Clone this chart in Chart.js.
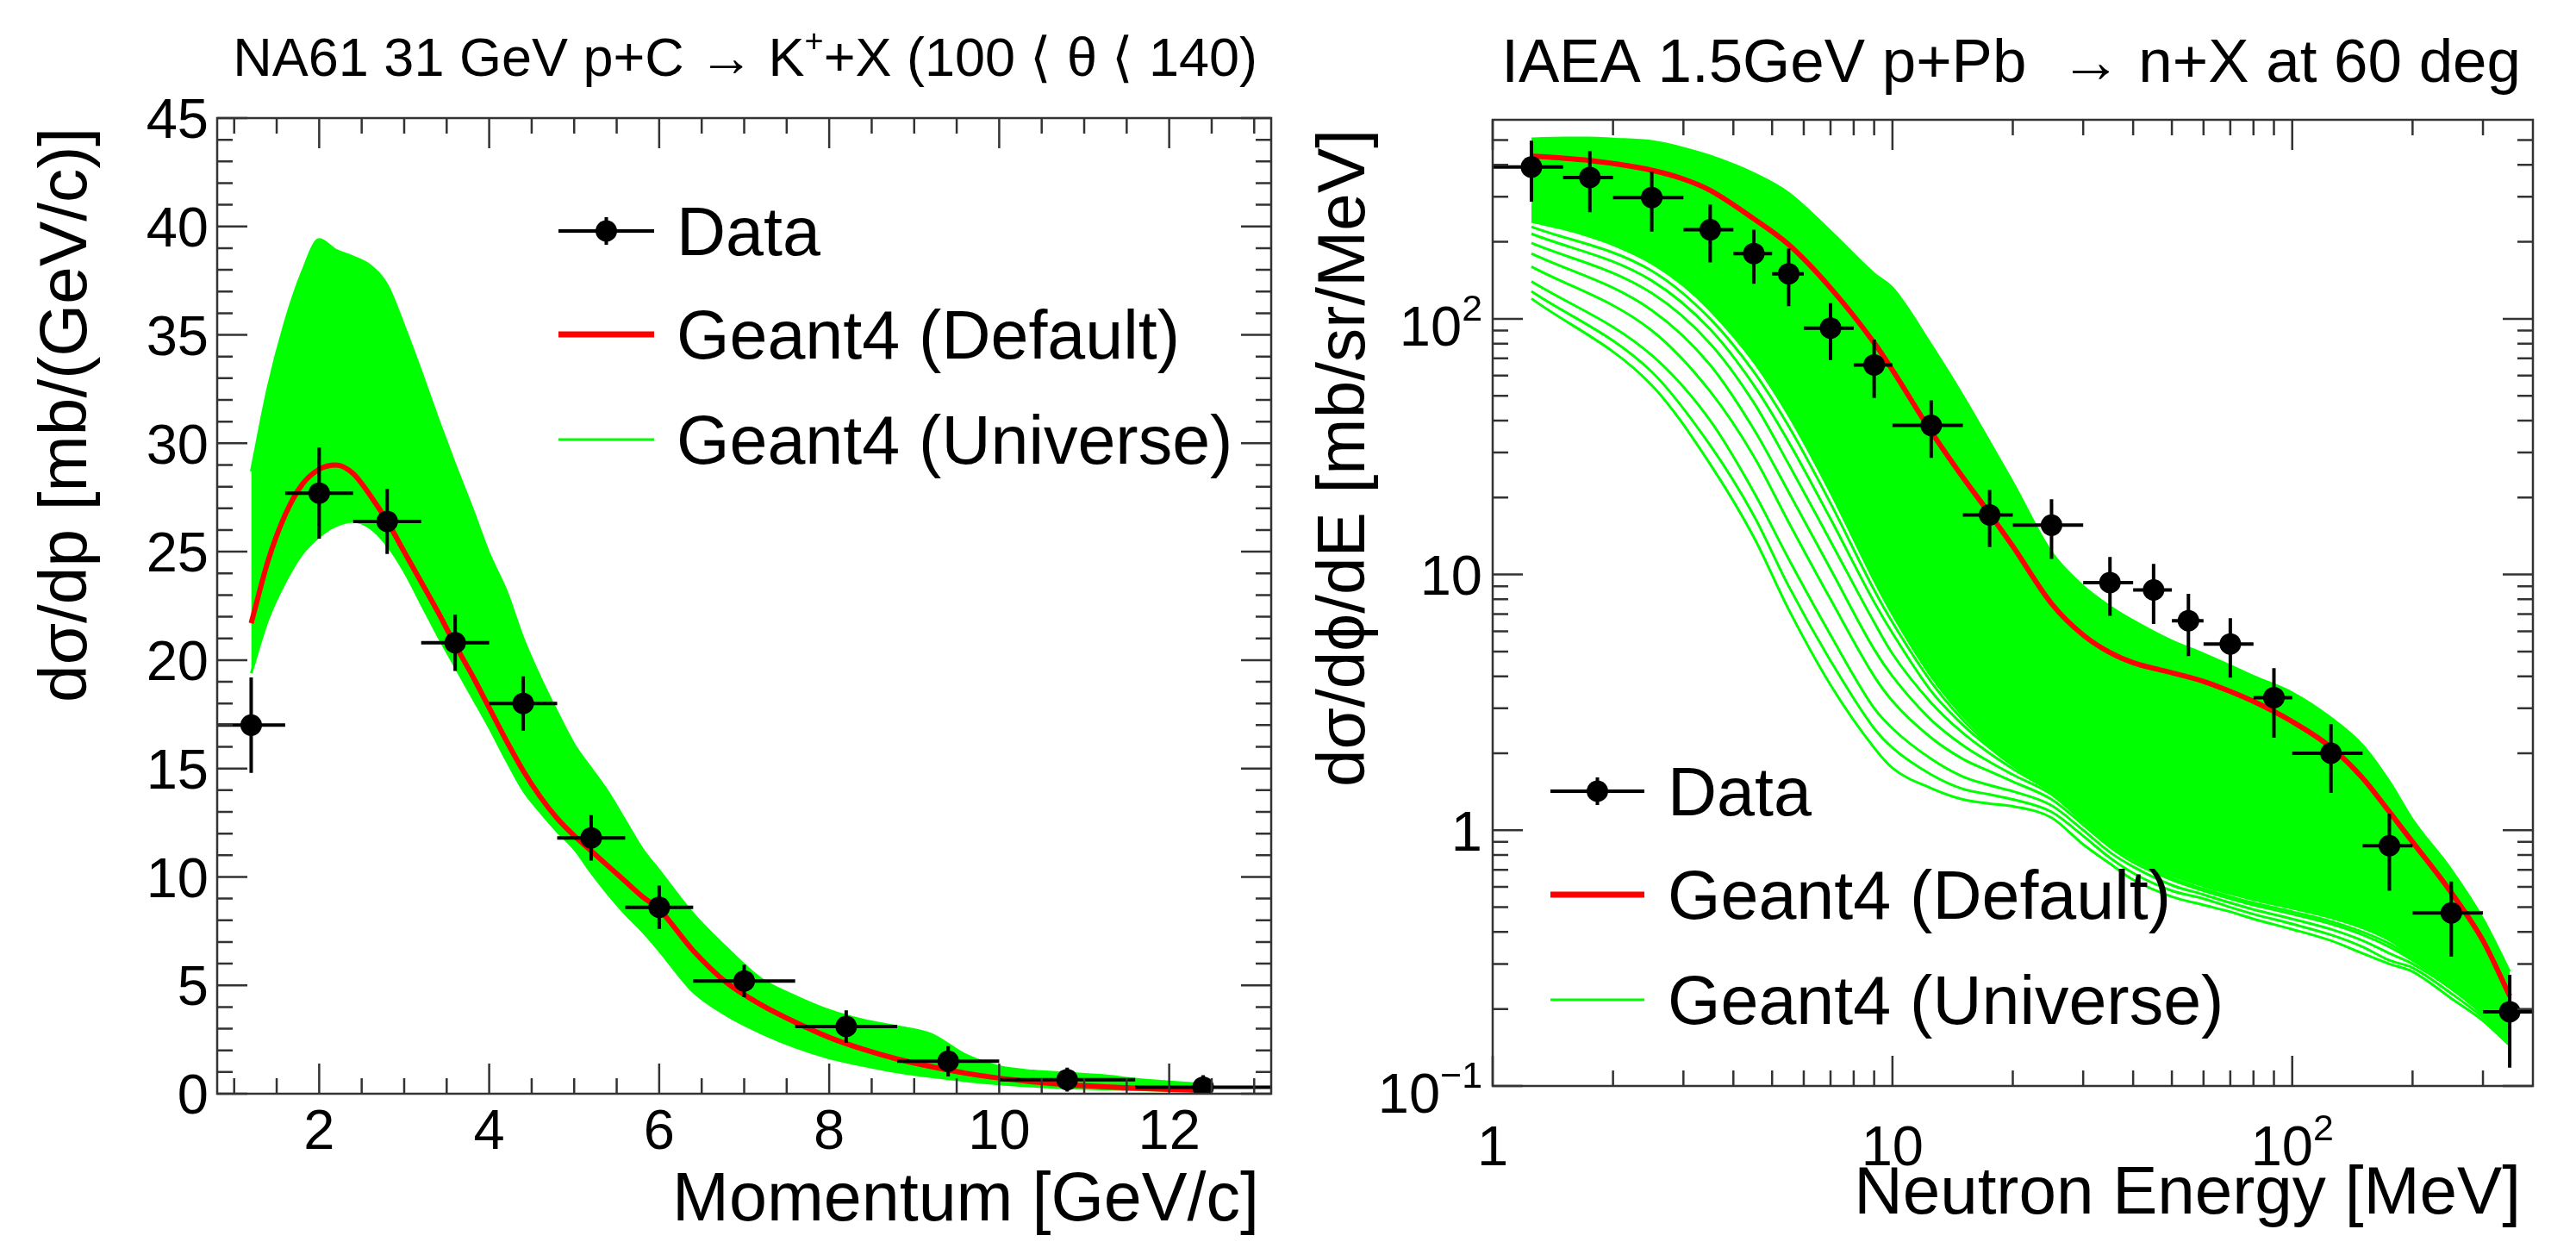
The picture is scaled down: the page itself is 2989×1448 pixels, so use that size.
<!DOCTYPE html>
<html>
<head>
<meta charset="utf-8">
<script src="https://cdn.jsdelivr.net/npm/chart.js@4.4.0/dist/chart.umd.min.js"></script>
<style>
  html, body { margin: 0; padding: 0; background: #fff; }
  #wrap { position: relative; width: 2989px; height: 1448px; }
  canvas { position: absolute; top: 0; }
</style>
</head>
<body>
<div id="wrap">
  <canvas id="na61" width="1495" height="1448" style="left:0;width:1495px;height:1448px"></canvas>
  <canvas id="iaea" width="1494" height="1448" style="left:1495px;width:1494px;height:1448px"></canvas>
</div>
<script>
// two ROOT-style panels drawn with chart.js

const FONT = '"Liberation Sans", Arial, Helvetica, sans-serif'
const LEGEND_LABELS = ['Data', 'Geant4 (Default)', 'Geant4 (Universe)']

// --- NA61 31 GeV p+C -> K+ X ---
const NA61_P = [1.2, 2.0, 2.8, 3.6, 4.4, 5.2, 6.0, 7.0, 8.2, 9.4, 10.8, 12.4]
const NA61_P_LO = [0.8, 1.6, 2.4, 3.2, 4.0, 4.8, 5.6, 6.4, 7.6, 8.8, 10.0, 11.6]
const NA61_P_HI = [1.6, 2.4, 3.2, 4.0, 4.8, 5.6, 6.4, 7.6, 8.8, 10.0, 11.6, 13.2]
const NA61_XS = [17.0, 27.7, 26.4, 20.8, 18.0, 11.8, 8.6, 5.2, 3.1, 1.5, 0.65, 0.3]
const NA61_ERR = [2.2, 2.1, 1.5, 1.3, 1.25, 1.05, 1.0, 0.75, 0.75, 0.7, 0.55, 0.55]

const NA61_GRID = [1.2, 1.4, 1.6, 1.8, 2.0, 2.2, 2.4, 2.6, 2.8, 3.0, 3.2, 3.4, 3.6, 3.8, 4.0, 4.2, 4.4, 4.6, 4.8, 5.0,
  5.2, 5.4, 5.6, 5.8, 6.0, 6.4, 6.8, 7.2, 7.6, 8.0, 8.4, 8.8, 9.2, 9.6, 10.0, 10.4, 10.8, 11.2, 11.6, 12.0, 12.4]
const NA61_DEFAULT = [21.7, 24.6, 26.7, 28.1, 28.8, 29.0, 28.6, 27.6, 26.4, 25.0, 23.6, 22.2, 20.7, 19.3, 17.8, 16.3, 14.9, 13.7, 12.7, 11.9,
  11.2, 10.5, 9.8, 9.1, 8.5, 6.6, 5.1, 4.1, 3.3, 2.6, 2.05, 1.6, 1.25, 0.95, 0.72, 0.55, 0.42, 0.33, 0.26, 0.2, 0.16]
const NA61_UNIV_HI = [28.7, 32.6, 35.6, 37.9, 39.4, 38.9, 38.6, 38.2, 37.3, 35.4, 33.3, 31.1, 29.0, 27.0, 24.9, 23.2, 21.0, 19.2, 17.6, 16.1,
  15.0, 13.9, 12.6, 11.3, 10.3, 8.3, 6.7, 5.3, 4.5, 3.85, 3.4, 3.1, 2.75, 1.8, 1.25, 1.05, 0.95, 0.85, 0.68, 0.55, 0.44]
const NA61_UNIV_LO = [19.4, 21.9, 23.6, 24.9, 25.7, 26.2, 26.4, 26.1, 25.3, 24.1, 22.6, 21.1, 19.7, 18.3, 16.9, 15.4, 14.0, 13.0, 12.1, 11.3,
  10.2, 9.2, 8.3, 7.5, 6.6, 4.7, 3.6, 2.8, 2.15, 1.65, 1.3, 1.0, 0.78, 0.6, 0.45, 0.35, 0.27, 0.22, 0.18, 0.15, 0.12]

const NA61_XTICKS = [2, 4, 6, 8, 10, 12]
const NA61_XLABELS = ['2', '4', '6', '8', '10', '12']
const NA61_YTICKS = [0, 5, 10, 15, 20, 25, 30, 35, 40, 45]
const NA61_YLABELS = ['0', '5', '10', '15', '20', '25', '30', '35', '40', '45']

// --- IAEA 1.5 GeV p+Pb -> n X at 60 deg ---
const IAEA_E = [1.25, 1.75, 2.5, 3.5, 4.5, 5.5, 7, 9, 12.5, 17.5, 25, 35, 45, 55, 70, 90, 125, 175, 250, 350]
const IAEA_E_LO = [1, 1.5, 2, 3, 4, 5, 6, 8, 10, 15, 20, 30, 40, 50, 60, 80, 100, 150, 200, 300]
const IAEA_E_HI = [1.5, 2, 3, 4, 5, 6, 8, 10, 15, 20, 30, 40, 50, 60, 80, 100, 150, 200, 300, 400]
const IAEA_XS = [392, 357, 298, 223, 180, 150, 92, 66, 38.3, 17.1, 15.6, 9.3, 8.7, 6.6, 5.35, 3.3, 2.0, 0.87, 0.475, 0.195]
const IAEA_ERR = [105, 96, 79, 57, 43, 38, 23, 17, 9.7, 4.3, 4.1, 2.4, 2.3, 1.8, 1.4, 1.0, 0.6, 0.29, 0.155, 0.077]

const IAEA_GRID = [1.25, 1.5, 1.75, 2, 2.5, 3, 3.5, 4.5, 5.5, 7, 9, 10, 12.5, 15, 17.5, 20, 25, 30, 35, 40,
  50, 60, 70, 80, 100, 125, 150, 175, 200, 250, 300, 350]
const IAEA_DEFAULT = [433, 425, 416, 405, 381, 352, 318, 246, 195, 132, 80.5, 63, 36.2, 24, 17.3, 12.9, 7.7, 5.8, 4.95, 4.52,
  4.13, 3.82, 3.49, 3.19, 2.66, 2.11, 1.6, 1.18, 0.9, 0.57, 0.37, 0.225]
const IAEA_UNIV_HI = [506, 510, 510, 505, 494, 465, 433, 370, 310, 220, 150, 132, 79, 50, 33, 22.9, 12.2, 9.0, 7.5, 6.6,
  5.5, 4.9, 4.4, 4.0, 3.45, 2.75, 2.15, 1.55, 1.1, 0.7, 0.45, 0.28]
const IAEA_UNIV_LO = [240, 225, 210, 195, 165, 135, 108, 68, 42, 21, 9.5, 7, 4.0, 2.8, 2.2, 1.85, 1.45, 1.15, 0.92, 0.8,
  0.68, 0.62, 0.58, 0.55, 0.51, 0.47, 0.43, 0.38, 0.33, 0.26, 0.2, 0.155]

// the loose universes below the dense band
const IAEA_SPARSE_E = [1.25, 2.5, 3.5, 4.5, 5.5, 7, 9, 10, 12.5, 15, 17.5, 20, 25, 30, 35, 40, 50, 60, 70, 80,
  100, 125, 150, 175, 200, 250, 300, 350]
const IAEA_SPARSE_1 = [120, 55, 27, 14, 7.3, 3.7, 2.1, 1.75, 1.46, 1.32, 1.27, 1.24, 1.12, 0.88, 0.74, 0.64, 0.55, 0.51, 0.48, 0.45,
  0.41, 0.37, 0.33, 0.30, 0.28, 0.22, 0.18, 0.144]
const IAEA_SPARSE_2 = [128, 62, 32, 17, 9, 4.6, 2.5, 2.1, 1.65, 1.45, 1.38, 1.32, 1.18, 0.95, 0.78, 0.68, 0.58, 0.54, 0.5, 0.47,
  0.43, 0.39, 0.35, 0.31, 0.29, 0.23, 0.185, 0.146]
const IAEA_SPARSE_3 = [140, 72, 40, 21, 11.5, 5.8, 3.0, 2.5, 1.9, 1.62, 1.5, 1.42, 1.25, 1.0, 0.82, 0.72, 0.61, 0.56, 0.52, 0.49,
  0.45, 0.41, 0.37, 0.33, 0.3, 0.24, 0.19, 0.148]
const IAEA_SPARSE_4 = [160, 90, 52, 29, 16, 8, 4.0, 3.2, 2.3, 1.9, 1.7, 1.55, 1.32, 1.05, 0.86, 0.75, 0.64, 0.58, 0.54, 0.51,
  0.47, 0.43, 0.39, 0.35, 0.31, 0.245, 0.193, 0.15]
const IAEA_SPARSE_5 = [180, 108, 66, 37, 21, 10.5, 5.1, 4.0, 2.7, 2.15, 1.85, 1.65, 1.38, 1.08, 0.88, 0.77, 0.65, 0.59, 0.55, 0.52,
  0.48, 0.44, 0.4, 0.36, 0.315, 0.248, 0.195, 0.151]
const IAEA_SPARSE_6 = [198, 126, 80, 47, 27, 13.5, 6.5, 4.9, 3.15, 2.4, 2.0, 1.74, 1.41, 1.11, 0.9, 0.785, 0.665, 0.605, 0.565, 0.535,
  0.495, 0.455, 0.415, 0.372, 0.322, 0.252, 0.197, 0.153]
const IAEA_SPARSE_7 = [215, 141, 91, 55, 33, 16.5, 7.8, 5.9, 3.5, 2.58, 2.1, 1.79, 1.43, 1.13, 0.91, 0.79, 0.67, 0.61, 0.57, 0.54,
  0.5, 0.46, 0.42, 0.376, 0.326, 0.256, 0.199, 0.154]
const IAEA_SPARSE_8 = [229, 154, 100, 62, 38, 19, 8.7, 6.5, 3.8, 2.7, 2.15, 1.82, 1.44, 1.14, 0.915, 0.795, 0.675, 0.615, 0.575, 0.545,
  0.505, 0.465, 0.425, 0.378, 0.328, 0.258, 0.2, 0.155]

const IAEA_XTICKS = [1, 10, 100]
const IAEA_XLABELS = ['1', '10', '10^2']
const IAEA_YTICKS = [0.1, 1, 10, 100]
const IAEA_YLABELS = ['10^\u22121', '1', '10', '10^2']

// minor ticks (style only)
const linMinor = (lo, hi, step, majors) => {
  const out = []
  for (let k = Math.ceil(lo / step - 1e-9); k * step <= hi + 1e-9; k++) {
    const v = +(k * step).toFixed(6)
    if (!majors.includes(v)) out.push(v)
  }
  return out
}
const logMinor = (lo, hi) => {
  const out = []
  for (let d = Math.floor(Math.log10(lo)); d <= Math.ceil(Math.log10(hi)); d++) {
    for (let m = 2; m <= 9; m++) {
      const v = m * Math.pow(10, d)
      if (v > lo * 1.0001 && v < hi * 0.9999) out.push(v)
    }
  }
  return out
}

const PANELS = {
  na61: {
    title: [{ t: 'NA61 31 GeV p+C \u2192 K' }, { t: '+', sup: true }, { t: '+X (100 \u27E8 \u03B8 \u27E8 140)' }],
    titleRight: 1459, titleBase: 88, titleWidth: 1188,
    xTitle: 'Momentum [GeV/c]', xTitleRight: 1461, xTitleBase: 1416, xTitleWidth: 681,
    yTitle: 'd\u03C3/dp [mb/(GeV/c)]', yTitleBase: 100, yTitleEnd: 148, yTitleWidth: 667,
    xTicks: NA61_XTICKS, xLabels: NA61_XLABELS, xMinor: linMinor(0.8, 13.2, 0.5, NA61_XTICKS),
    yTicks: NA61_YTICKS, yLabels: NA61_YLABELS, yMinor: linMinor(0, 45, 1, NA61_YTICKS),
    xLabelBase: 1333, yLabelRight: 242,
    legend: { x1: 648, x2: 759, tx: 785, rows: [268, 388, 510] },
    err: { x: NA61_P, lo: NA61_P_LO, hi: NA61_P_HI, y: NA61_XS, e: NA61_ERR },
  },
  iaea: {
    title: [{ t: 'IAEA 1.5GeV p+Pb  \u2192 n+X at 60 deg' }],
    titleRight: 1430, titleBase: 95, titleWidth: 1183,
    xTitle: 'Neutron Energy [MeV]', xTitleRight: 1430, xTitleBase: 1408, xTitleWidth: 774,
    yTitle: 'd\u03C3/d\u03D5/dE [mb/sr/MeV]', yTitleBase: 88, yTitleEnd: 150, yTitleWidth: null,
    xTicks: IAEA_XTICKS, xLabels: IAEA_XLABELS, xMinor: logMinor(1, 400),
    yTicks: IAEA_YTICKS, yLabels: IAEA_YLABELS, yMinor: logMinor(0.1, 600),
    xLabelBase: 1352, yLabelRight: 225,
    legend: { x1: 304, x2: 413, tx: 440, rows: [918, 1038, 1160] },
    err: { x: IAEA_E, lo: IAEA_E_LO, hi: IAEA_E_HI, y: IAEA_XS, e: IAEA_ERR },
  },
}

const LABEL_SIZE = 65
let yTitleSize = 79

const fitSize = (ctx, text, width, guess) => {
  ctx.font = `${guess}px ${FONT}`
  return guess * width / ctx.measureText(text).width
}

// label like '10^2' -> base + superscript
const drawLabel = (ctx, label, x, base, size, align) => {
  const [b, s] = label.split('^')
  ctx.font = `${size}px ${FONT}`
  const wb = ctx.measureText(b).width
  const ss = size * 0.66
  ctx.font = `${ss}px ${FONT}`
  const ws = s ? ctx.measureText(s).width : 0
  const w = wb + ws
  const x0 = align === 'right' ? x - w : align === 'center' ? x - w / 2 : x
  ctx.textAlign = 'left'
  ctx.textBaseline = 'alphabetic'
  ctx.font = `${size}px ${FONT}`
  ctx.fillText(b, x0, base)
  if (s) {
    ctx.font = `${ss}px ${FONT}`
    ctx.fillText(s, x0 + wb, base - size * 0.45)
  }
}

const richWidth = (ctx, parts, size) => parts.reduce((acc, p) => {
  ctx.font = `${p.sup ? size * 0.6 : size}px ${FONT}`
  return acc + ctx.measureText(p.t).width
}, 0)

const drawRich = (ctx, parts, right, base, size) => {
  let x = right - richWidth(ctx, parts, size)
  ctx.textAlign = 'left'
  ctx.textBaseline = 'alphabetic'
  parts.forEach(p => {
    ctx.font = `${p.sup ? size * 0.6 : size}px ${FONT}`
    ctx.fillText(p.t, x, p.sup ? base - size * 0.45 : base)
    x += ctx.measureText(p.t).width
  })
}

const rootStyle = {
  id: 'rootStyle',
  afterDatasetsDraw(chart) {
    const p = PANELS[chart.canvas.id]
    const { ctx, chartArea: a, scales: { x, y } } = chart
    ctx.save()
    ctx.beginPath()
    ctx.rect(a.left, a.top, a.right - a.left, a.bottom - a.top)
    ctx.clip()
    ctx.strokeStyle = '#000'
    ctx.lineWidth = 4
    p.err.x.forEach((xv, i) => {
      const px = x.getPixelForValue(xv)
      const py = y.getPixelForValue(p.err.y[i])
      ctx.beginPath()
      ctx.moveTo(x.getPixelForValue(p.err.lo[i]), py)
      ctx.lineTo(x.getPixelForValue(p.err.hi[i]), py)
      ctx.moveTo(px, y.getPixelForValue(p.err.y[i] - p.err.e[i]))
      ctx.lineTo(px, y.getPixelForValue(p.err.y[i] + p.err.e[i]))
      ctx.stroke()
    })
    ctx.restore()
  },
  afterDraw(chart) {
    const p = PANELS[chart.canvas.id]
    const { ctx, chartArea: a, scales: { x, y } } = chart
    ctx.save()

    // frame + inward ticks on all four sides
    ctx.strokeStyle = '#333'
    ctx.lineWidth = 2.5
    ctx.beginPath()
    const xt = (v, len) => {
      const px = x.getPixelForValue(v)
      ctx.moveTo(px, a.bottom); ctx.lineTo(px, a.bottom - len)
      ctx.moveTo(px, a.top); ctx.lineTo(px, a.top + len)
    }
    const yt = (v, len) => {
      const py = y.getPixelForValue(v)
      ctx.moveTo(a.left, py); ctx.lineTo(a.left + len, py)
      ctx.moveTo(a.right, py); ctx.lineTo(a.right - len, py)
    }
    p.xTicks.forEach(v => xt(v, 35))
    p.xMinor.forEach(v => xt(v, 18))
    p.yTicks.forEach(v => yt(v, 35))
    p.yMinor.forEach(v => yt(v, 18))
    ctx.stroke()
    ctx.strokeRect(a.left, a.top, a.right - a.left, a.bottom - a.top)

    // tick labels
    ctx.fillStyle = '#000'
    p.xTicks.forEach((v, i) => drawLabel(ctx, p.xLabels[i], x.getPixelForValue(v), p.xLabelBase, LABEL_SIZE, 'center'))
    p.yTicks.forEach((v, i) => {
      const lab = p.yLabels[i]
      const shift = lab.includes('^') ? 8 : 0
      drawLabel(ctx, lab, p.yLabelRight, y.getPixelForValue(v) + LABEL_SIZE * 0.358 + shift, LABEL_SIZE, 'right')
    })

    // titles
    const ts = 64 * p.titleWidth / richWidth(ctx, p.title, 64)
    drawRich(ctx, p.title, p.titleRight, p.titleBase, ts)

    const xs = fitSize(ctx, p.xTitle, p.xTitleWidth, 79)
    ctx.font = `${xs}px ${FONT}`
    ctx.textAlign = 'right'
    ctx.textBaseline = 'alphabetic'
    ctx.fillText(p.xTitle, p.xTitleRight, p.xTitleBase)

    if (p.yTitleWidth) yTitleSize = fitSize(ctx, p.yTitle, p.yTitleWidth, 79)
    ctx.save()
    ctx.translate(p.yTitleBase, p.yTitleEnd)
    ctx.rotate(-Math.PI / 2)
    ctx.font = `${yTitleSize}px ${FONT}`
    ctx.textAlign = 'right'
    ctx.fillText(p.yTitle, 0, 0)
    ctx.restore()

    // legend
    const L = p.legend
    const ls = 79
    const mid = (L.x1 + L.x2) / 2
    L.rows.forEach((ry, i) => {
      ctx.beginPath()
      if (i === 0) {
        ctx.strokeStyle = '#000'; ctx.lineWidth = 4
        ctx.moveTo(L.x1, ry); ctx.lineTo(L.x2, ry)
        ctx.moveTo(mid, ry - 16); ctx.lineTo(mid, ry + 16)
        ctx.stroke()
        ctx.beginPath()
        ctx.fillStyle = '#000'
        ctx.arc(mid, ry, 12.5, 0, Math.PI * 2)
        ctx.fill()
      } else {
        ctx.strokeStyle = i === 1 ? '#ff0000' : '#00ff00'
        ctx.lineWidth = i === 1 ? 7 : 3
        ctx.moveTo(L.x1, ry); ctx.lineTo(L.x2, ry)
        ctx.stroke()
      }
      ctx.fillStyle = '#000'
      ctx.font = `${ls}px ${FONT}`
      ctx.textAlign = 'left'
      ctx.textBaseline = 'alphabetic'
      ctx.fillText(LEGEND_LABELS[i], L.tx, ry + ls * 0.358)
    })

    ctx.restore()
  },
}

const xy = (xs, ys) => xs.map((v, i) => ({ x: v, y: ys[i] }))

const dataSet = (xs, ys) => ({
  label: LEGEND_LABELS[0], data: xy(xs, ys), showLine: false,
  pointRadius: 12.5, pointBackgroundColor: '#000', pointBorderWidth: 0, pointHoverRadius: 12.5,
})
const curve = (label, xs, ys, color, width, fill) => ({
  label, data: xy(xs, ys), showLine: true, borderColor: color, borderWidth: width,
  pointRadius: 0, cubicInterpolationMode: 'monotone', fill: fill || false,
  backgroundColor: color,
})

const baseOptions = (padding, xScale, yScale) => ({
  responsive: false, animation: false, devicePixelRatio: 1,
  layout: { padding },
  scales: { x: { ...xScale, display: false }, y: { ...yScale, display: false } },
  plugins: { legend: { display: false }, tooltip: { enabled: false } },
  events: [],
})

new Chart(document.getElementById('na61').getContext('2d'), {
  type: 'scatter',
  data: {
    datasets: [
      dataSet(NA61_P, NA61_XS),
      curve(LEGEND_LABELS[1], NA61_GRID, NA61_DEFAULT, '#ff0000', 6),
      curve(LEGEND_LABELS[2], NA61_GRID, NA61_UNIV_HI, '#00ff00', 3, '+1'),
      curve(LEGEND_LABELS[2], NA61_GRID, NA61_UNIV_LO, '#00ff00', 3),
    ],
  },
  options: baseOptions({ left: 252, top: 137, right: 20, bottom: 179 },
    { type: 'linear', min: 0.8, max: 13.2 }, { type: 'linear', min: 0, max: 45 }),
  plugins: [rootStyle],
})

const sparse = [IAEA_SPARSE_8, IAEA_SPARSE_7, IAEA_SPARSE_6, IAEA_SPARSE_5, IAEA_SPARSE_4, IAEA_SPARSE_3, IAEA_SPARSE_2, IAEA_SPARSE_1]

new Chart(document.getElementById('iaea').getContext('2d'), {
  type: 'scatter',
  data: {
    datasets: [
      dataSet(IAEA_E, IAEA_XS),
      curve(LEGEND_LABELS[1], IAEA_GRID, IAEA_DEFAULT, '#ff0000', 6),
      curve(LEGEND_LABELS[2], IAEA_GRID, IAEA_UNIV_HI, '#00ff00', 3, '+1'),
      curve(LEGEND_LABELS[2], IAEA_GRID, IAEA_UNIV_LO, '#00ff00', 3),
      ...sparse.map(s => curve(LEGEND_LABELS[2], IAEA_SPARSE_E, s, '#00ff00', 3)),
    ],
  },
  options: baseOptions({ left: 237, top: 139, right: 50, bottom: 188 },
    { type: 'logarithmic', min: 1, max: 400 }, { type: 'logarithmic', min: 0.1, max: 600 }),
  plugins: [rootStyle],
})
</script>
</body>
</html>
